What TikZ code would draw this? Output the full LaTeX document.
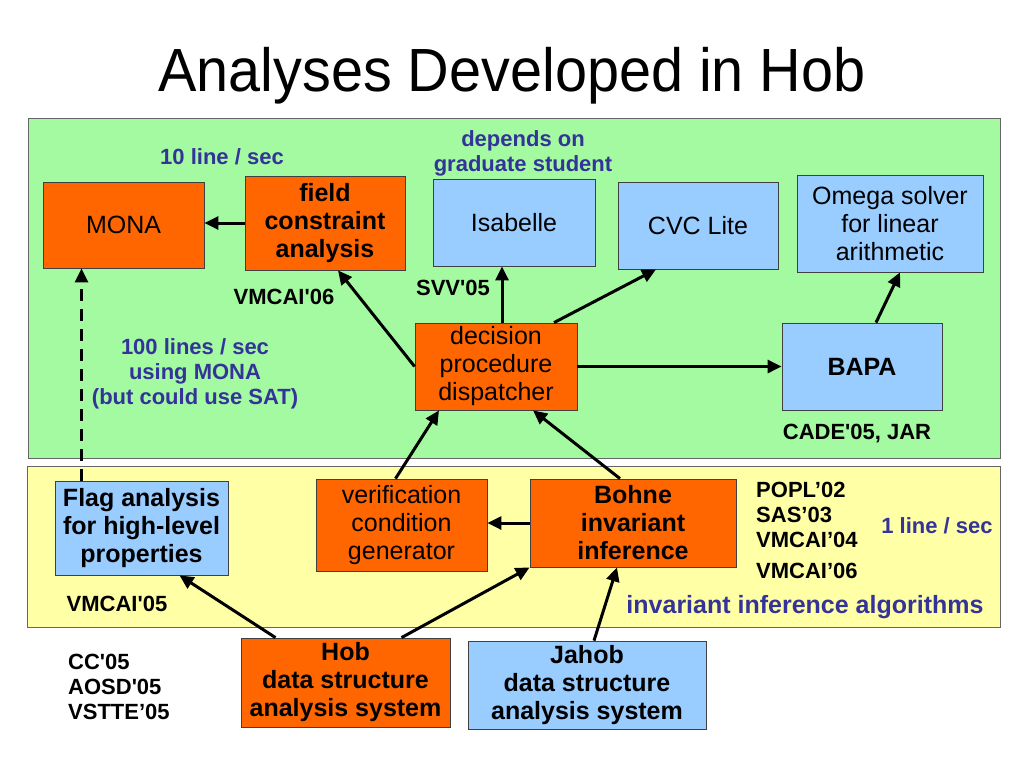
\documentclass[tikz,border=0pt]{standalone}
\usepackage{fontspec}
\setmainfont{Liberation Sans}
\usetikzlibrary{arrows.meta,calc}
\definecolor{panelgreen}{RGB}{164,250,160}
\definecolor{panelyellow}{RGB}{255,255,166}
\definecolor{boxorange}{RGB}{255,102,0}
\definecolor{boxblue}{RGB}{153,204,255}
\definecolor{labelblue}{RGB}{51,51,153}
\newcommand{\sq}{\textquotesingle}
\tikzset{
  box/.style={draw=black!75, line width=0.8pt, inner sep=2pt, align=center,
    font=\fontsize{25}{28}\selectfont},
  obox/.style={box, fill=boxorange},
  bbox/.style={box, fill=boxblue},
  bfont/.style={font=\fontsize{25}{28}\selectfont\bfseries},
  pub/.style={inner sep=0pt, align=center, font=\fontsize{22}{25}\selectfont\bfseries},
  note/.style={pub, text=labelblue},
  conn/.style={line width=3pt, -{Triangle[length=14pt,width=13pt]}},
  panel/.style={draw=black!60, line width=0.8pt}
}
\begin{document}
\begin{tikzpicture}[x=1pt,y=-1pt]
\useasboundingbox (0,0) rectangle (1024,768);
\fill[white] (0,0) rectangle (1024,768);
% title
\node[anchor=base, inner sep=0pt, xscale=0.944, font=\fontsize{61}{64}\selectfont] (title) at (512,91) {Analyses Developed in Hob};
% panels
\draw[panel, fill=panelgreen] (28,118) rectangle (1000,458);
\draw[panel, fill=panelyellow] (27,466) rectangle (1000,627);
% boxes top
\node[obox, minimum width=161, minimum height=86] (mona) at (123.5,225) {MONA};
\node[obox, bfont, minimum width=160, minimum height=94] (fca) at (325,223) {field\\constraint\\analysis};
\node[bbox, minimum width=162, minimum height=87] (isa) at (514,222.5) {Isabelle};
\node[bbox, minimum width=160, minimum height=87] (cvc) at (698,225.5) {CVC Lite};
\node[bbox, minimum width=186, minimum height=97] (omega) at (890,223.5) {Omega solver\\for linear\\arithmetic};
\node[obox, minimum width=162, minimum height=87] (disp) at (496,366.5) {decision\\procedure\\dispatcher};
\node[bbox, bfont, minimum width=160, minimum height=87] (bapa) at (862,366.5) {BAPA};
% boxes bottom
\node[bbox, bfont, minimum width=173, minimum height=94] (flag) at (141.5,528) {Flag analysis\\for high-level\\properties};
\node[obox, minimum width=171, minimum height=92] (vcg) at (401.5,525) {verification\\condition\\generator};
\node[obox, bfont, minimum width=206, minimum height=88] (bohne) at (633,523) {Bohne\\invariant\\inference};
\node[obox, bfont, minimum width=209, minimum height=89] (hob) at (345.5,682.5) {Hob\\data structure\\analysis system};
\node[bbox, bfont, minimum width=238, minimum height=88] (jahob) at (587,685) {Jahob\\data structure\\analysis system};
% labels
\node[note] (l10) at (222,157) {10 line / sec};
\node[note] (ldep) at (523,153) {depends on\\graduate student};
\node[pub] (lvm06a) at (284,297) {VMCAI\sq 06};
\node[pub] (lsvv) at (453,288) {SVV\sq 05};
\node[note] (l100) at (195,374) {100 lines / sec\\using MONA\\(but could use SAT)};
\node[pub] (lcade) at (857,434) {CADE\sq 05, JAR};
\node[pub, anchor=west, align=left] (lpopl) at (756,515) {POPL’02\\SAS’03\\VMCAI’04};
\node[pub, anchor=west] (lvm06b) at (756,571) {VMCAI’06};
\node[note] (l1) at (937,526) {1 line / sec};
\node[note, font=\fontsize{25}{28}\selectfont\bfseries] (linv) at (805,607) {invariant inference algorithms};
\node[pub] (lvm05) at (117,604) {VMCAI\sq 05};
\node[pub, anchor=west, align=left] (lcc) at (68,687) {CC\sq 05\\AOSD\sq 05\\VSTTE’05};
% connectors
\draw[conn] (fca.west) -- (fca.west -| mona.east);
\draw[conn] (disp.west) -- ([xshift=13pt]fca.south);
\draw[conn] ([xshift=6pt]disp.north) -- ([xshift=6pt]disp.north |- isa.south);
\draw[conn] ([xshift=58pt]disp.north) -- ([xshift=-42pt]cvc.south);
\draw[conn] (disp.east) -- (bapa.west);
\draw[conn] ([xshift=14pt]bapa.north) -- ([xshift=10pt]omega.south);
\draw[conn] ([xshift=-6pt]vcg.north) -- ([xshift=-57pt]disp.south);
\draw[conn] ([xshift=-13pt]bohne.north) -- ([xshift=37pt]disp.south);
\draw[conn] (bohne.west) -- (bohne.west -| vcg.east);
\draw[conn] ([xshift=-70pt]hob.north) -- ([xshift=38pt]flag.south);
\draw[conn] ([xshift=56pt]hob.north) -- (bohne.south west);
\draw[conn] ([xshift=7pt]jahob.north) -- ([xshift=-16pt]bohne.south);
\draw[conn, dash pattern=on 12pt off 8pt] ([xshift=-60pt]flag.north) -- ([xshift=-60pt]flag.north |- mona.south);
\end{tikzpicture}
\end{document}
